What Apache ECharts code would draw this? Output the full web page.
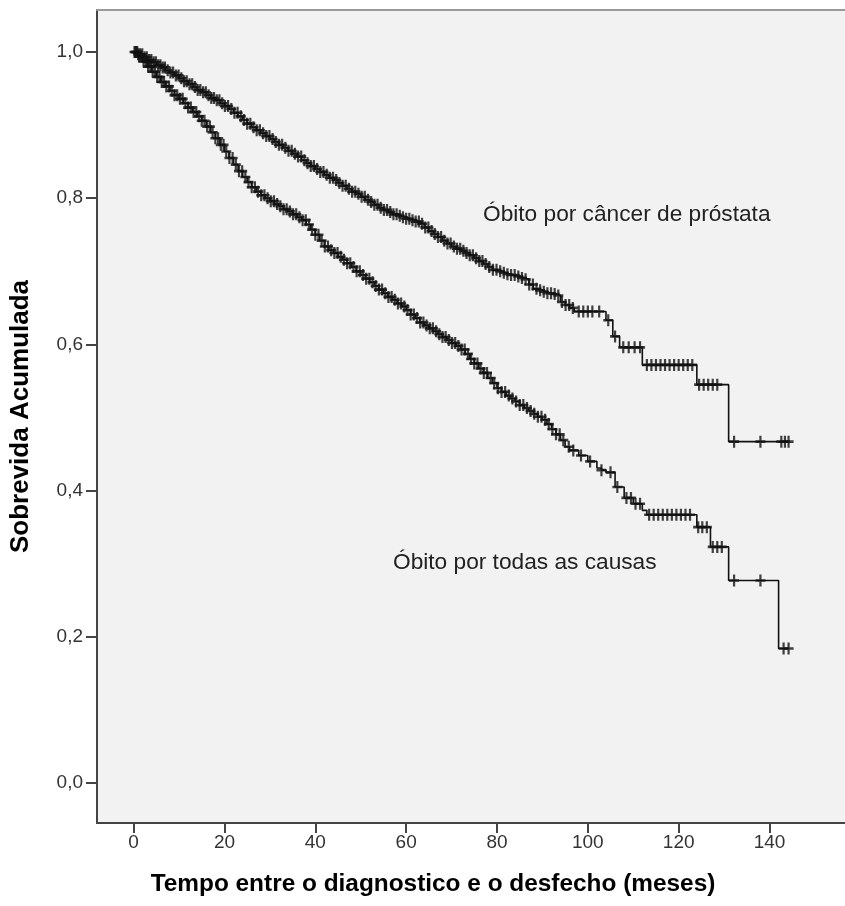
<!DOCTYPE html>
<html>
<head>
<meta charset="utf-8">
<script src="https://cdn.jsdelivr.net/npm/echarts@6/dist/echarts.min.js"></script>
<style>
  html, body { margin: 0; padding: 0; background: #fff; }
  #chart { width: 845px; height: 906px; }
</style>
</head>
<body>
<div id="chart"></div>
<script>
// Kaplan-Meier steps: [months, cumulative survival]
const cancerSteps = [
  [0, 1.000], [1, 0.997], [2, 0.993], [3, 0.989], [4, 0.986], [5, 0.982],
  [6, 0.979], [7, 0.975], [8, 0.972], [9, 0.968], [10, 0.964], [11, 0.960],
  [12, 0.956], [13, 0.952], [14, 0.948], [15, 0.945], [16, 0.941], [17, 0.937],
  [18, 0.934], [19, 0.930], [20, 0.926], [21, 0.922], [22, 0.917], [23, 0.912],
  [24, 0.907], [25, 0.902], [26, 0.897], [27, 0.893], [28, 0.889], [29, 0.885],
  [30, 0.881], [31, 0.877], [32, 0.873], [33, 0.869], [34, 0.865], [35, 0.861],
  [36, 0.857], [37, 0.852], [38, 0.848], [39, 0.844], [40, 0.840], [41, 0.836],
  [42, 0.832], [43, 0.828], [44, 0.825], [45, 0.821], [46, 0.817], [47, 0.813],
  [48, 0.809], [49, 0.806], [50, 0.802], [51, 0.798], [52, 0.795], [53, 0.791],
  [54, 0.787], [55, 0.784], [56, 0.781], [57, 0.778], [58, 0.776], [59, 0.774],
  [60, 0.772], [61, 0.770], [62, 0.768], [63, 0.765], [64, 0.760], [65, 0.755],
  [66, 0.751], [67, 0.747], [68, 0.742], [69, 0.738], [70, 0.734], [71, 0.731],
  [72, 0.728], [73, 0.725], [74, 0.722], [75, 0.718], [76, 0.714], [77, 0.710],
  [78, 0.706], [79, 0.702], [80, 0.700], [81, 0.698], [82, 0.696], [83, 0.695],
  [84, 0.693], [85, 0.691], [86, 0.689], [87, 0.682], [88, 0.676], [89, 0.674],
  [90, 0.672], [91, 0.670], [92, 0.669], [93, 0.667], [94, 0.658], [95, 0.654],
  [96, 0.650], [97, 0.645], [104, 0.633], [105.5, 0.611], [107, 0.596],
  [112, 0.572], [124, 0.545], [131, 0.467], [144.2, 0.467]
];
const allCauseSteps = [
  [0, 1.000], [1, 0.994], [2, 0.987], [3, 0.980], [4, 0.973], [5, 0.966],
  [6, 0.959], [7, 0.953], [8, 0.947], [9, 0.941], [10, 0.936], [11, 0.930],
  [12, 0.924], [13, 0.918], [14, 0.912], [15, 0.906], [16, 0.898], [17, 0.890],
  [18, 0.882], [19, 0.873], [20, 0.864], [21, 0.855], [22, 0.846], [23, 0.837],
  [24, 0.829], [25, 0.822], [26, 0.815], [27, 0.809], [28, 0.804], [29, 0.800],
  [30, 0.796], [31, 0.792], [32, 0.789], [33, 0.785], [34, 0.782], [35, 0.778],
  [36, 0.774], [37, 0.770], [38, 0.764], [39, 0.757], [40, 0.750], [41, 0.742],
  [42, 0.734], [43, 0.729], [44, 0.725], [45, 0.720], [46, 0.716], [47, 0.711],
  [48, 0.706], [49, 0.700], [50, 0.695], [51, 0.690], [52, 0.685], [53, 0.680],
  [54, 0.675], [55, 0.670], [56, 0.665], [57, 0.661], [58, 0.656], [59, 0.652],
  [60, 0.647], [61, 0.641], [62, 0.636], [63, 0.630], [64, 0.626], [65, 0.622],
  [66, 0.618], [67, 0.614], [68, 0.610], [69, 0.606], [70, 0.602], [71, 0.598],
  [72, 0.593], [73, 0.587], [74, 0.580], [75, 0.574], [76, 0.567], [77, 0.561],
  [78, 0.554], [79, 0.547], [80, 0.540], [81, 0.535], [82, 0.530], [83, 0.526],
  [84, 0.522], [85, 0.517], [86, 0.513], [87, 0.509], [88, 0.505], [89, 0.501],
  [90, 0.497], [91, 0.491], [92, 0.484], [93, 0.477], [94, 0.469], [95, 0.460],
  [96, 0.455], [98, 0.448], [100, 0.440], [102, 0.431], [103, 0.428],
  [104, 0.425], [106, 0.405], [108, 0.390], [110, 0.382], [112, 0.373],
  [113, 0.367], [124, 0.350], [127, 0.323], [131, 0.277], [142, 0.184],
  [144.2, 0.184]
];

// censored cases (months)
const cancerCensored = [
  0.2, 0.6, 1, 1.4, 1.9, 2.4, 2.9, 3.4, 3.9, 4.4, 4.9, 5.4, 5.9, 6.4, 6.9,
  7.5, 8.1, 8.7, 9.3, 9.9, 10.5, 11.1, 11.7, 12.3, 12.9, 13.5, 14.1, 14.7,
  15.3, 15.9, 16.5, 17.1, 17.7, 18.3, 18.9, 19.5, 20.1, 20.8, 21.5, 22.2,
  22.9, 23.6, 24.3, 25, 25.7, 26.4, 27.1, 27.8, 28.5, 29.2, 29.9, 30.6, 31.3,
  32, 32.7, 33.4, 34.1, 34.8, 35.5, 36.2, 36.9, 37.6, 38.3, 39, 39.7, 40.4,
  41.1, 41.8, 42.5, 43.2, 43.9, 44.6, 45.3, 46, 46.7, 47.4, 48.1, 48.8, 49.5,
  50.2, 50.9, 51.6, 52.3, 53, 53.7, 54.4, 55.1, 55.8, 56.5, 57.2, 57.9, 58.6,
  59.3, 60, 60.7, 61.4, 62.1, 62.8, 63.5, 64.2, 64.9, 65.6, 66.3, 67, 67.7,
  68.4, 69.1, 69.8, 70.5, 71.2, 71.9, 72.6, 73.3, 74, 74.7, 75.4, 76.1, 76.8,
  77.5, 78.3, 79.1, 79.9, 80.7, 81.5, 82.3, 83.1, 83.9, 84.7, 85.5, 86.3,
  87.1, 87.9, 88.7, 89.5, 90.3, 91.1, 91.9, 92.7, 93.5, 94.3, 95.1, 95.9, 96.7,
  98, 99, 100, 101, 102.5, 104.5, 106, 107.8, 109, 110.3, 111.5,
  113, 114, 115, 116, 117, 118, 119, 120, 121, 122, 123,
  124.5, 125.5, 126.5, 127.5, 128.5, 132.2, 138, 142.6, 143.4, 144.2
];
const allCauseCensored = [
  0.4, 0.8, 1.2, 1.7, 2.2, 2.7, 3.2, 3.7, 4.2, 4.7, 5.2, 5.7, 6.2, 6.7, 7.2,
  7.8, 8.4, 9, 9.6, 10.2, 10.8, 11.4, 12, 12.6, 13.2, 13.8, 14.4, 15, 15.6,
  16.2, 16.8, 17.4, 18, 18.6, 19.2, 19.8, 20.4, 21.1, 21.8, 22.5, 23.2, 23.9,
  24.6, 25.3, 26, 26.7, 27.4, 28.1, 28.8, 29.5, 30.2, 30.9, 31.6, 32.3, 33,
  33.7, 34.4, 35.1, 35.8, 36.5, 37.2, 37.9, 38.6, 39.3, 40, 40.7, 41.4, 42.1,
  42.8, 43.5, 44.2, 44.9, 45.6, 46.3, 47, 47.7, 48.4, 49.1, 49.8, 50.5, 51.2,
  51.9, 52.6, 53.3, 54, 54.7, 55.4, 56.1, 56.8, 57.5, 58.2, 58.9, 59.6, 60.3,
  61, 61.7, 62.4, 63.1, 63.8, 64.5, 65.2, 65.9, 66.6, 67.3, 68, 68.7, 69.4,
  70.1, 70.8, 71.5, 72.2, 72.9, 73.6, 74.3, 75, 75.7, 76.4, 77.1, 77.8, 78.6,
  79.4, 80.2, 81, 81.8, 82.6, 83.4, 84.2, 85, 85.8, 86.6, 87.4, 88.2, 89,
  89.8, 90.6, 91.4, 92.2, 93, 93.8, 94.6,
  95.8, 96.8, 98.5, 100.5, 103, 105, 106.5, 108.5, 109.5, 110.5, 111.5,
  113.5, 114.5, 115.5, 116.5, 117.5, 118.5, 119.5, 120.5, 121.5, 122.5,
  124.3, 125.2, 126.2, 127.5, 128.5, 129.5, 132.2, 138, 143.1, 144.2
];

const xTicks = [0, 20, 40, 60, 80, 100, 120, 140];
const yTicks = [0, 0.2, 0.4, 0.6, 0.8, 1.0];

const labelCancer = 'Óbito por câncer de próstata';
const labelAll = 'Óbito por todas as causas';

// survival value at time t (last step at or before t)
function survivalAt(steps, t) {
  let s = steps[0][1];
  for (const [time, val] of steps) {
    if (time <= t) s = val;
  }
  return s;
}

const plus = 'path://M3.9,0h2.2v10h-2.2z M0,3.9h10v2.2h-10z';
const font = "'Liberation Sans', Arial, sans-serif";

const chart = echarts.init(document.getElementById('chart'));

const options = {
  backgroundColor: '#ffffff',
  animation: false,
  grid: {
    left: 95,
    top: 10,
    right: 0,
    bottom: 83,
    show: true,
    backgroundColor: '#f2f2f2',
    borderWidth: 0
  },
  xAxis: [
    {
      type: 'value',
      min: -8.06,
      max: 156.62,
      name: 'Tempo entre o diagnostico e o desfecho (meses)',
      nameLocation: 'middle',
      nameGap: 49,
      nameTextStyle: {
        fontFamily: font,
        fontSize: 24.4,
        fontWeight: 'bold',
        color: '#000',
        padding: [0, 76, 0, 0]
      },
      splitLine: { show: false },
      axisLine: { show: true, onZero: false, lineStyle: { color: '#444', width: 2 } },
      axisTick: { show: true, length: 10, customValues: xTicks, lineStyle: { color: '#444', width: 2 } },
      axisLabel: {
        customValues: xTicks,
        margin: 10,
        fontFamily: font,
        fontSize: 19,
        color: '#333'
      }
    },
    {
      type: 'value',
      position: 'top',
      min: -8.06,
      max: 156.62,
      splitLine: { show: false },
      axisLine: { show: true, onZero: false, lineStyle: { color: '#9a9a9a', width: 2 } },
      axisTick: { show: false },
      axisLabel: { show: false }
    }
  ],
  yAxis: {
    type: 'value',
    min: -0.0547,
    max: 1.0575,
    name: 'Sobrevida Acumulada',
    nameLocation: 'middle',
    nameGap: 63,
    nameTextStyle: {
      fontFamily: font,
      fontSize: 26,
      fontWeight: 'bold',
      color: '#000'
    },
    splitLine: { show: false },
    axisLine: { show: true, onZero: false, lineStyle: { color: '#444', width: 2 } },
    axisTick: { show: true, length: 11, customValues: yTicks, lineStyle: { color: '#444', width: 2 } },
    axisLabel: {
      customValues: yTicks,
      margin: 14,
      fontFamily: font,
      fontSize: 19,
      color: '#333',
      formatter: (v) => v.toFixed(1).replace('.', ',')
    }
  },
  series: [
    {
      name: labelCancer,
      type: 'line',
      step: 'end',
      showSymbol: false,
      lineStyle: { color: '#111', width: 1.6 },
      data: cancerSteps
    },
    {
      name: labelAll,
      type: 'line',
      step: 'end',
      showSymbol: false,
      lineStyle: { color: '#111', width: 1.6 },
      data: allCauseSteps
    },
    {
      name: labelCancer + ' (censurado)',
      type: 'scatter',
      symbol: plus,
      symbolSize: [10, 12],
      itemStyle: { color: '#111' },
      data: cancerCensored.map((t) => [t, survivalAt(cancerSteps, t)])
    },
    {
      name: labelAll + ' (censurado)',
      type: 'scatter',
      symbol: plus,
      symbolSize: [10, 12],
      itemStyle: { color: '#111' },
      data: allCauseCensored.map((t) => [t, survivalAt(allCauseSteps, t)])
    }
  ],
  graphic: [
    {
      type: 'text',
      x: 483,
      y: 215,
      style: {
        text: labelCancer,
        fontFamily: font,
        fontSize: 22.7,
        fill: '#222',
        verticalAlign: 'middle'
      }
    },
    {
      type: 'text',
      x: 393,
      y: 563,
      style: {
        text: labelAll,
        fontFamily: font,
        fontSize: 22.7,
        fill: '#222',
        verticalAlign: 'middle'
      }
    }
  ]
};

chart.setOption(options);
</script>
</body>
</html>
